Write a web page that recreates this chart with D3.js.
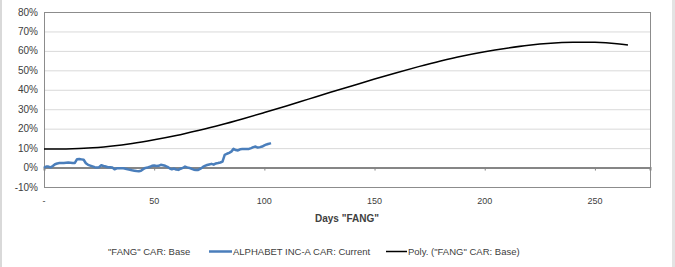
<!DOCTYPE html>
<html>
<head>
<meta charset="utf-8">
<style>
  body { margin: 0; background: #fff; }
  svg { display: block; font-family: "Liberation Sans", Arial, sans-serif; }
</style>
</head>
<body>
<svg></svg>
<script src="https://d3js.org/d3.v7.min.js"></script>
<script>
// data
var yTicks = [-10, 0, 10, 20, 30, 40, 50, 60, 70, 80]
var xTicks = [0, 50, 100, 150, 200, 250]
var legendLabels = ['"FANG" CAR: Base', 'ALPHABET INC-A CAR: Current', 'Poly. ("FANG" CAR: Base)']

// ALPHABET INC-A CAR: Current, one value per day (%)
var alphabet = [
  0, 0.5, 0.5, 0.1, 0.8, 1.7, 2.1, 2.3, 2.4, 2.4,
  2.5, 2.6, 2.5, 2.4, 2.4, 4.3, 4.4, 4.2, 4.0, 2.2,
  1.4, 1.0, 0.6, 0.2, 0.0, 0.2, 1.2, 0.8, 0.5, 0.2,
  0.2, 0.0, -0.9, -0.4, -0.3, -0.3, -0.4, -0.6, -0.9, -1.1,
  -1.4, -1.6, -1.8, -1.9, -1.6, -0.8, -0.2, 0.0, 0.4, 0.9,
  1.1, 0.8, 0.9, 1.4, 1.2, 0.9, 0.4, -0.4, -0.9, -0.5,
  -1.0, -1.2, -0.6, -0.2, 0.5, 0.1, -0.2, -0.7, -1.1, -1.2,
  -1.2, -0.6, 0.2, 0.9, 1.3, 1.6, 1.9, 1.5, 2.1, 2.3,
  2.6, 3.1, 6.5, 7.1, 7.6, 8.2, 9.6, 9.0, 8.8, 9.4,
  9.5, 9.5, 9.6, 9.6, 10.0, 10.5, 10.8, 10.3, 10.5, 10.8,
  11.4, 11.9, 12.2, 12.6
]

// Poly. trend line (day, %)
var trendDays = [0, 10, 20, 30, 40, 50, 60, 70, 80, 90, 100, 110, 120, 130, 140,
  150, 160, 170, 180, 190, 200, 210, 220, 230, 240, 250, 260, 265]
var trendVals = [9.5, 9.6, 10.0, 11.0, 12.4, 14.3, 16.5, 19.1, 21.9, 25.0, 28.3, 31.7, 35.2, 38.7, 42.1,
  45.5, 48.8, 51.9, 54.8, 57.4, 59.6, 61.4, 62.9, 63.9, 64.4, 64.4, 63.7, 63.0]

var _width = 675
var _height = 267
var _svg = d3.select("svg").attr("width", _width).attr("height", _height)

var plotL = 44, plotR = 650, plotT = 12, plotB = 187

var x = d3.scaleLinear().domain([0, 275]).range([plotL, plotR])
var y = d3.scaleLinear().domain([-10, 80]).range([plotB, plotT])

// outer frame bits
_svg.append("rect").attr("x", 0).attr("y", 0).attr("width", 2).attr("height", _height).attr("fill", "#d9d9d9")
_svg.append("rect").attr("x", 672).attr("y", 0).attr("width", 3).attr("height", _height).attr("fill", "#e3e3e3")

// gridlines
_svg.append("g").selectAll("line").data(yTicks).join("line")
  .attr("x1", plotL).attr("x2", plotR)
  .attr("y1", d => y(d) + 0.5).attr("y2", d => y(d) + 0.5)
  .attr("stroke", "#d9d9d9").attr("stroke-width", 1)

// plot border
_svg.append("rect")
  .attr("x", plotL + 0.5).attr("y", plotT + 0.5)
  .attr("width", plotR - plotL).attr("height", plotB - plotT)
  .attr("fill", "none").attr("stroke", "#8c8c8c").attr("stroke-width", 1)

// y labels
_svg.append("g").selectAll("text").data(yTicks).join("text")
  .attr("x", 38).attr("y", d => y(d) + 3.5)
  .attr("text-anchor", "end").attr("font-size", 10).attr("fill", "#404040")
  .text(d => d + "%")

// x axis on zero line
var xAxis = d3.axisBottom(x).tickValues(xTicks).tickSize(3).tickFormat("")
var gx = _svg.append("g").attr("transform", "translate(0," + y(0) + ")").call(xAxis)
gx.select(".domain").attr("stroke", "#868686").attr("stroke-width", 2)
gx.selectAll(".tick line").attr("stroke", "#868686")

// x labels below plot
_svg.append("g").selectAll("text").data(xTicks).join("text")
  .attr("x", d => x(d)).attr("y", 204)
  .attr("text-anchor", "middle").attr("font-size", 9).attr("fill", "#404040")
  .text(d => d === 0 ? "-" : d)

// axis title
_svg.append("text")
  .attr("x", 347).attr("y", 222)
  .attr("text-anchor", "middle").attr("font-size", 10).attr("font-weight", "bold").attr("fill", "#404040")
  .text('Days "FANG"')

// trend line
var trendLine = d3.line().x((d, i) => x(trendDays[i])).y(d => y(d)).curve(d3.curveCatmullRom)
_svg.append("path").datum(trendVals)
  .attr("d", trendLine)
  .attr("fill", "none").attr("stroke", "#000").attr("stroke-width", 1.5)

// blue series
var blueLine = d3.line().x((d, i) => x(i)).y(d => y(d))
_svg.append("path").datum(alphabet)
  .attr("d", blueLine)
  .attr("fill", "none").attr("stroke", "#4a7ebb").attr("stroke-width", 2.5)
  .attr("stroke-linejoin", "round")

// legend
var lg = _svg.append("g").attr("font-size", 9.5).attr("fill", "#404040")
lg.append("text").attr("x", 108).attr("y", 255).text(legendLabels[0])
lg.append("line").attr("x1", 209).attr("x2", 232).attr("y1", 251.5).attr("y2", 251.5)
  .attr("stroke", "#4a7ebb").attr("stroke-width", 2.5)
lg.append("text").attr("x", 233).attr("y", 255).text(legendLabels[1])
lg.append("line").attr("x1", 386).attr("x2", 407).attr("y1", 251.5).attr("y2", 251.5)
  .attr("stroke", "#000").attr("stroke-width", 1.5)
lg.append("text").attr("x", 408).attr("y", 255).text(legendLabels[2])
</script>
</body>
</html>
